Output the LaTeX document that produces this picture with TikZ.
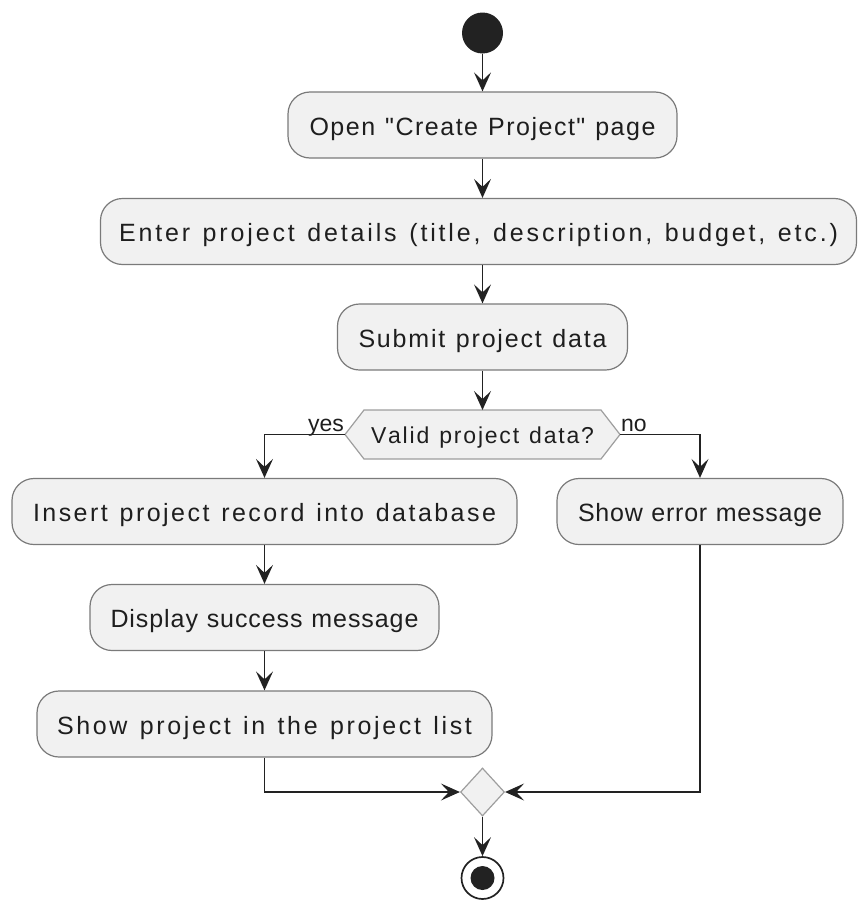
\documentclass[tikz,border=0pt]{standalone}
\usepackage{fontspec}
\setmainfont{Liberation Sans}[Ligatures=TeXOff]
\usetikzlibrary{arrows.meta,shapes.geometric}
\ExplSyntaxOn
\NewDocumentCommand\spreadtext{mm}{\makebox[#1][s]{\hfilneg\str_map_inline:nn{#2}{\hfil ##1}}}
\ExplSyntaxOff
\definecolor{boxfill}{HTML}{F1F1F1}
\definecolor{boxdraw}{HTML}{7A7A7A}
\definecolor{decdraw}{HTML}{9E9E9E}
\definecolor{linec}{HTML}{222222}
\definecolor{textc}{HTML}{1E1E1E}
\tikzset{
  actbox/.style={draw=boxdraw, fill=boxfill, rounded corners=22pt, line width=1.2pt,
    minimum height=66pt, inner sep=0pt, text height=20pt, text depth=0pt,
    font=\fontsize{25}{30}\selectfont, text=textc},
  dectext/.style={inner sep=0pt, text height=17pt, text depth=0pt,
    font=\fontsize{23}{28}\selectfont, text=textc},
  declabel/.style={inner sep=0pt, font=\fontsize{23}{28}\selectfont, text=textc},
  decshape/.style={draw=decdraw, fill=boxfill, line width=1.2pt, line join=miter},
  arr/.style={draw=linec, line width=1.7pt, -{Stealth[length=19pt,width=17pt,inset=8pt]}},
  startdot/.style={circle, fill=linec, inner sep=0pt, minimum size=41pt},
  endring/.style={circle, draw=linec, fill=white, line width=1.7pt, inner sep=0pt, minimum size=42pt},
  enddot/.style={circle, fill=linec, inner sep=0pt, minimum size=24pt},
  merge/.style={diamond, draw=decdraw, fill=boxfill, line width=1.2pt, inner sep=0pt,
    minimum width=44pt, minimum height=48pt}
}
\begin{document}
\begin{tikzpicture}[x=1pt,y=-1pt]
\useasboundingbox (0,0) rectangle (858,902);

\node[startdot] (start) at (482.5,33) {};
\node[actbox, minimum width=389pt] (b1) at (482.5,125) {\spreadtext{346pt}{Open "Create Project" page}};
\node[actbox, minimum width=756pt] (b2) at (478.5,231.5) {\spreadtext{719pt}{Enter project details (title, description, budget, etc.)}};
\node[actbox, minimum width=290pt] (b3) at (482.5,337) {\spreadtext{248pt}{Submit project data}};

% decision hexagon
\coordinate (decL) at (345,434.5);
\coordinate (decR) at (620,434.5);
\coordinate (decT) at (482.5,410);
\path[decshape] (decL) -- (364,410) -- (601,410) -- (decR) -- (601,459) -- (364,459) -- cycle;
\node[dectext] (dec) at (482.5,434.5) {\spreadtext{223pt}{Valid project data?}};
\node[declabel, anchor=base east] (yes) at (344,431) {yes};
\node[declabel, anchor=base west] (no) at (621,431) {no};

\node[actbox, minimum width=505pt] (b4) at (264.5,511.5) {\spreadtext{463pt}{Insert project record into database}};
\node[actbox, minimum width=286pt] (b5) at (700,511.5) {\spreadtext{244pt}{Show error message}};
\node[actbox, minimum width=349pt] (b6) at (264.5,617.5) {\spreadtext{308pt}{Display success message}};
\node[actbox, minimum width=455pt] (b7) at (264.5,724) {\spreadtext{415pt}{Show project in the project list}};

\node[merge] (m) at (482.5,792) {};
\node[endring] (end) at (482.5,878) {};
\node[enddot] (endin) at (482.5,878) {};

\draw[arr] (start) -- (b1);
\draw[arr] (b1) -- (b2.north -| b1);
\draw[arr] (b2.south -| b3) -- (b3);
\draw[arr] (b3) -- (decT);
\draw[arr] (decL) -| (b4);
\draw[arr] (decR) -| (b5);
\draw[arr] (b4) -- (b6);
\draw[arr] (b6) -- (b7);
\draw[arr] (b7) |- (m.west);
\draw[arr] (b5) |- (m.east);
\draw[arr] (m) -- (end);
\end{tikzpicture}
\end{document}
